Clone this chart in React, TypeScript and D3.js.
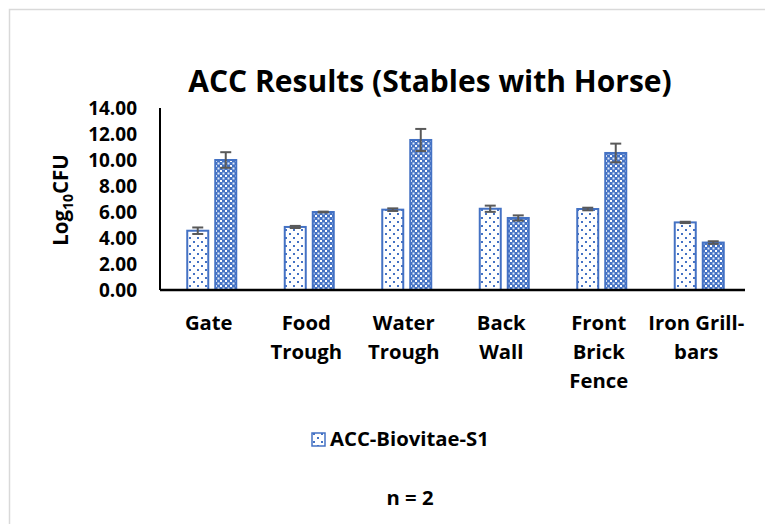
import React from 'react';
import * as d3 from 'd3';

// chart values
const categories = ['Gate', 'Food Trough', 'Water Trough', 'Back Wall', 'Front Brick Fence', 'Iron Grill-bars'];
const categoryLines = [['Gate'], ['Food', 'Trough'], ['Water', 'Trough'], ['Back', 'Wall'], ['Front', 'Brick', 'Fence'], ['Iron Grill-', 'bars']];
const seriesA = [4.56, 4.85, 6.18, 6.25, 6.23, 5.2];
const seriesAErr = [0.25, 0.08, 0.1, 0.24, 0.1, 0.05];
const seriesB = [10.0, 6.0, 11.54, 5.54, 10.54, 3.65];
const seriesBErr = [0.6, 0.03, 0.85, 0.2, 0.72, 0.1];
const yTicks = [0, 2, 4, 6, 8, 10, 12, 14];
const legendLabel = 'ACC-Biovitae-S1';

const W = 765;
const H = 524;
const FONT = '"Open Sans", Lato, sans-serif';
const BLUE = '#4472C4';

export default function App(): JSX.Element {
  const left = 160;
  const right = 745;
  const top = 108;
  const bottom = 290;

  const x = d3.scaleBand<string>().domain(categories).range([left, right]).padding(0);
  const y = d3.scaleLinear().domain([0, 14]).range([bottom, top]);
  const barW = 21;
  const inner = d3.scaleBand<string>().domain(['a', 'b']).range([-25, 31]).paddingInner(0.2).paddingOuter(0.1);

  const series = [
    { key: 'a', values: seriesA, err: seriesAErr, fill: 'url(#dots)' },
    { key: 'b', values: seriesB, err: seriesBErr, fill: 'url(#check)' },
  ];

  return (
    <svg width={W} height={H} style={{ position: 'absolute', left: 0, top: 0, background: '#fff' }} fontFamily={FONT}>
      <defs>
        <pattern id="dots" width="8" height="8" patternUnits="userSpaceOnUse">
          <rect width="8" height="8" fill="#fff" />
          <rect x="1" y="1" width="2" height="2" fill={BLUE} />
          <rect x="5" y="5" width="2" height="2" fill={BLUE} />
        </pattern>
        <pattern id="check" width="5" height="5" patternUnits="userSpaceOnUse">
          <rect width="5" height="5" fill={BLUE} />
          <rect x="0" y="0" width="2" height="2" fill="#fff" />
          <rect x="2.5" y="2.5" width="2" height="2" fill="#e4ecf8" />
        </pattern>
      </defs>
      <rect x={9.5} y={9.5} width={820} height={600} fill="#fff" stroke="#d9d9d9" strokeWidth={1.5} />

      <text x={430} y={92} textAnchor="middle" fontSize={30} fontWeight={700} fill="#000">
        ACC Results (Stables with Horse)
      </text>

      {yTicks.map(t => (
        <text key={t} x={137} y={y(t)} dy="0.36em" textAnchor="end" fontSize={19} fontWeight={700} fill="#000">
          {t.toFixed(2)}
        </text>
      ))}

      <text transform={`translate(68,200) rotate(-90)`} textAnchor="middle" fontSize={20.5} fontWeight={700} fill="#000">
        Log<tspan fontSize={14} dy={5}>10</tspan><tspan dy={-5}>CFU</tspan>
      </text>

      {series.map(s => (
        <g key={s.key}>
          {categories.map((c, i) => {
            const cx = (x(c) ?? 0) + x.bandwidth() / 2 + (inner(s.key) ?? 0) + inner.bandwidth() / 2;
            return (
              <g key={c}>
                <rect x={cx - barW / 2} y={y(s.values[i])} width={barW} height={bottom - y(s.values[i])} fill={s.fill} stroke={BLUE} strokeWidth={2} />
                <g stroke="#595959" strokeWidth={2}>
                  <line x1={cx} x2={cx} y1={y(s.values[i] + s.err[i])} y2={y(s.values[i] - s.err[i])} />
                  <line x1={cx - 5.5} x2={cx + 5.5} y1={y(s.values[i] + s.err[i])} y2={y(s.values[i] + s.err[i])} />
                  <line x1={cx - 5.5} x2={cx + 5.5} y1={y(s.values[i] - s.err[i])} y2={y(s.values[i] - s.err[i])} />
                </g>
              </g>
            );
          })}
        </g>
      ))}

      <line x1={left} x2={left} y1={top} y2={bottom} stroke="#000" strokeWidth={2} />
      <line x1={left} x2={right} y1={bottom} y2={bottom} stroke="#000" strokeWidth={2.5} />

      {categories.map((c, i) => (
        <text key={c} x={(x(c) ?? 0) + x.bandwidth() / 2} y={330} textAnchor="middle" fontSize={20.3} fontWeight={700} fill="#000">
          {categoryLines[i].map((ln, j) => (
            <tspan key={j} x={(x(c) ?? 0) + x.bandwidth() / 2} dy={j === 0 ? 0 : 29}>{ln}</tspan>
          ))}
        </text>
      ))}

      <rect x={312} y={433} width={13} height={13} fill="url(#dots)" stroke={BLUE} strokeWidth={1.5} />
      <text x={330} y={446} fontSize={20.3} fontWeight={700} fill="#000">{legendLabel}</text>

      <text x={410} y={505} textAnchor="middle" fontSize={20.3} fontWeight={700} fill="#000">n = 2</text>
    </svg>
  );
}
